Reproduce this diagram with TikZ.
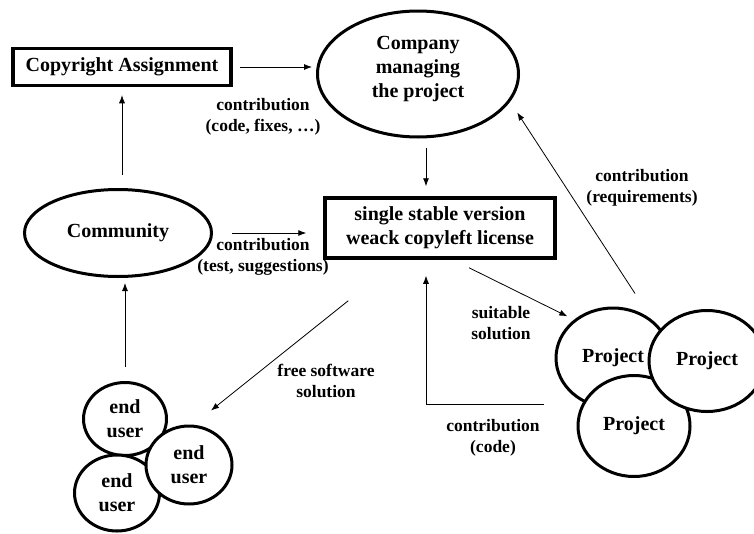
\documentclass[tikz,border=0pt]{standalone}
\usepackage{fontspec}
\setmainfont{Liberation Serif}
\usetikzlibrary{arrows.meta}
\usetikzlibrary{shapes.geometric}

\begin{document}
\begin{tikzpicture}[x=1pt, y=-1pt,
  font=\bfseries\fontsize{20}{24}\selectfont,
  box/.style={rectangle, draw, line width=3.5pt, fill=white, align=center},
  oval/.style={ellipse, draw, line width=3pt, fill=white, align=center, inner sep=0pt},
  lbl/.style={align=center, font=\bfseries\fontsize{17.5}{21}\selectfont},
  arr/.style={-{Latex[length=8pt,width=6pt]}, line width=0.8pt}]
\useasboundingbox (0,0) rectangle (754,533);

\path (122, 67) node[box, minimum width=218pt, minimum height=37pt] (ca) {Copyright Assignment};
\path (418, 74) node[oval, minimum width=201pt, minimum height=126pt] (company) {};
\path (418, 69) node[align=center] (companytext) {Company\\managing\\the project};
\path (440, 228) node[box, minimum width=230pt, minimum height=60pt] (single) {single stable version\\weack copyleft license};
\path (118, 233) node[oval, minimum width=187pt, minimum height=87pt] (community) {Community};

% end users
\path (125, 419) node[oval, minimum width=83pt, minimum height=73pt] (eua) {end\\user};
\path (117, 493) node[oval, minimum width=85pt, minimum height=76pt] (euc) {end\\user};
\path (189, 465) node[oval, minimum width=86pt, minimum height=78pt] (eub) {end\\user};

% projects
\path (613, 358) node[oval, minimum width=114pt, minimum height=100pt] (pa) {Project};
\path (634, 426) node[oval, minimum width=112pt, minimum height=101pt] (pc) {Project};
\path (707, 361) node[oval, minimum width=116pt, minimum height=101pt] (pb) {Project};

\draw[arr] ([xshift=7pt]ca.east) -- ([xshift=-4pt]ca.east -| company.west);
\path (263, 117) node[lbl] (lcode) {contribution\\(code, fixes, …)};

\draw[arr, shorten <=9pt, shorten >=10pt]
       ([xshift=8pt]company.south) -- ([xshift=8pt]company.south |- single.north);

\draw[arr, line width=0.6pt, shorten <=13pt, shorten >=8pt]
       ([xshift=4pt]community.north) -- ([xshift=4pt]community.north |- ca.south);

\draw[arr, shorten <=19pt, shorten >=17pt] (community.east) -- (community.east -| single.west);
\path (263, 257) node[lbl] (ltest) {contribution\\(test, suggestions)};

\draw[arr, shorten <=14pt, shorten >=5pt] (eua.north) -- (eua.north |- community.south);

\draw[arr] ([xshift=25pt,yshift=-41pt]single.south west) -- ([xshift=22pt,yshift=14pt]eub.north);
\path (326, 381) node[lbl] (lfree) {free software\\solution};

\draw[arr] ([xshift=29pt,yshift=-8pt]single.south) -- ([xshift=-7pt,yshift=3pt]pa.135);
\path (501, 323) node[lbl] (lsuit) {suitable\\solution};

\draw[arr] ([xshift=-11pt,yshift=-46pt]pa.west) -| ([xshift=-14pt,yshift=-16pt]single.south);
\path (493, 438) node[lbl] (lcontrib) {contribution\\(code)};

\draw[arr] ([xshift=22pt,yshift=13pt]pa.north) -- ([xshift=12pt,yshift=-5pt]company.-21);
\path (642, 188) node[lbl] (lreq) {contribution\\(requirements)};
\end{tikzpicture}
\end{document}
